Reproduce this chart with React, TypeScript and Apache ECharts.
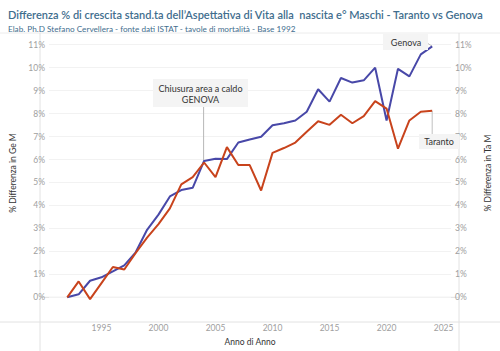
import React, { useEffect, useRef } from 'react';
import * as echarts from 'echarts';

const years = [1992, 1993, 1994, 1995, 1996, 1997, 1998, 1999, 2000, 2001, 2002, 2003, 2004, 2005, 2006, 2007, 2008, 2009, 2010, 2011, 2012, 2013, 2014, 2015, 2016, 2017, 2018, 2019, 2020, 2021, 2022, 2023, 2024];
const genova = [0.0, 0.13, 0.72, 0.87, 1.13, 1.39, 1.96, 2.94, 3.6, 4.39, 4.67, 4.77, 5.94, 6.03, 6.02, 6.74, 6.87, 6.99, 7.49, 7.58, 7.7, 8.08, 9.06, 8.52, 9.55, 9.35, 9.45, 10.0, 7.7, 9.95, 9.62, 10.58, 10.93];
const taranto = [0.0, 0.69, -0.08, 0.62, 1.32, 1.21, 1.93, 2.6, 3.19, 3.87, 4.92, 5.23, 5.87, 5.23, 6.54, 5.76, 5.76, 4.65, 6.29, 6.5, 6.74, 7.21, 7.67, 7.51, 7.95, 7.58, 7.89, 8.54, 8.22, 6.47, 7.7, 8.08, 8.12];
const yTicks = [0, 1, 2, 3, 4, 5, 6, 7, 8, 9, 10, 11];
const xTicks = [1995, 2000, 2005, 2010, 2015, 2020, 2025];

const FONT = 'Lato, "Open Sans", sans-serif';
const BLUE = '#4848a8';
const RED = '#c8431c';
const GRID = { left: 40, right: 41, top: 33, bottom: 29 };

export default function App() {
  const ref = useRef<HTMLDivElement>(null);
  useEffect(() => {
    const chart = echarts.init(ref.current!, null, { renderer: 'svg' });
    const yAxisBase = {
      type: 'value' as const,
      min: -0.688,
      max: 11.51,
      axisLine: { show: false },
      axisTick: { show: false },
      splitLine: { show: false },
      nameLocation: 'middle' as const,
      nameRotate: 90,
      nameTextStyle: { color: '#333', fontSize: 8.5, fontFamily: FONT },
      axisLabel: {
        customValues: yTicks,
        formatter: (v: number) => `${Math.round(v)}%`,
        color: '#a0a0a0',
        fontSize: 8.5,
        fontFamily: FONT,
        margin: 4,
      },
    };
    chart.setOption({
      animation: false,
      backgroundColor: '#fff',
      title: [
        {
          text: 'Differenza % di crescita stand.ta dell\u2019Aspettativa di Vita alla  nascita e\u00b0 Maschi - Taranto vs Genova',
          left: 3,
          top: 4,
          textStyle: { color: '#3f6e8e', fontSize: 11, fontWeight: 600, fontFamily: FONT },
        },
        {
          text: 'Elab. Ph.D Stefano Cervellera - fonte dati ISTAT - tavole di mortalit\u00e0 - Base 1992',
          left: 3,
          top: 19.5,
          textStyle: { color: '#3f6e8e', fontSize: 8.2, fontWeight: 'normal', fontFamily: FONT },
        },
      ],
      grid: GRID,
      xAxis: {
        type: 'value',
        min: 1990.4,
        max: 2025.65,
        name: 'Anno di Anno',
        nameLocation: 'middle',
        nameGap: 21,
        nameTextStyle: { color: '#333', fontSize: 8.5, fontFamily: FONT },
        axisLine: { show: false },
        axisTick: { show: false },
        splitLine: { show: false },
        axisLabel: {
          customValues: xTicks,
          color: '#a0a0a0',
          fontSize: 8.5,
          fontFamily: FONT,
          margin: 10,
          formatter: (v: number) => String(v),
        },
      },
      yAxis: [
        { ...yAxisBase, position: 'left', name: '% Differenza in Ge M', nameGap: 32 },
        { ...yAxisBase, position: 'right', name: '% Differenza in Ta M', nameGap: 32 },
      ],
      series: [
        {
          name: 'Genova',
          type: 'line',
          yAxisIndex: 0,
          data: years.map((y, i) => [y, genova[i]]),
          showSymbol: false,
          lineStyle: { color: BLUE, width: 2 },
          itemStyle: { color: BLUE },
          z: 3,
          markLine: {
            silent: true,
            symbol: 'none',
            label: { show: false },
            data: yTicks.map((v) => ({ yAxis: v })),
            lineStyle: { color: '#f2f2f2', type: 'solid', width: 1 },
            z: 1,
          },
        },
        {
          name: 'Taranto',
          type: 'line',
          yAxisIndex: 1,
          data: years.map((y, i) => [y, taranto[i]]),
          showSymbol: false,
          lineStyle: { color: RED, width: 2 },
          itemStyle: { color: RED },
          z: 4,
        },
      ],
    });

    const p2004 = chart.convertToPixel({ gridIndex: 0 }, [2004, genova[12]]) as number[];
    const pGe = chart.convertToPixel({ gridIndex: 0 }, [2024, genova[32]]) as number[];
    const pTa = chart.convertToPixel({ gridIndex: 0 }, [2024, taranto[32]]) as number[];
    const zero = chart.convertToPixel({ gridIndex: 0 }, [2000, 0]) as number[];
    const W = 500, H = 351;
    const plotTop = GRID.top, plotBottom = H - GRID.bottom, plotLeft = GRID.left, plotRight = W - GRID.right;
    const axisStroke = { stroke: '#e2e2e2', lineWidth: 1 };
    const ZA = 50;
    const ZL = 2;
    chart.setOption({
      graphic: [
        { type: 'line', shape: { x1: 0, y1: plotTop, x2: W, y2: plotTop }, style: { stroke: '#ececec', lineWidth: 1 }, silent: true },
        { type: 'line', shape: { x1: 0, y1: plotBottom, x2: W, y2: plotBottom }, style: axisStroke, silent: true },
        { type: 'line', shape: { x1: plotLeft, y1: plotTop, x2: plotLeft, y2: H }, style: axisStroke, silent: true },
        { type: 'line', shape: { x1: plotRight, y1: plotTop, x2: plotRight, y2: H }, style: axisStroke, silent: true },
        { type: 'line', shape: { x1: plotLeft, y1: zero[1], x2: plotRight, y2: zero[1] }, style: { stroke: '#dedede', lineWidth: 1 }, silent: true, z: 0 },
        // Chiusura annotation
        { type: 'line', z: ZL, shape: { x1: p2004[0] - 0.5, y1: 106, x2: p2004[0] - 0.5, y2: p2004[1] }, style: { stroke: '#b8b8b8', lineWidth: 1 }, silent: true },
        { type: 'rect', z: ZA, shape: { x: 153, y: 79, width: 95, height: 28 }, style: { fill: '#f4f4f4' }, silent: true },
        {
          type: 'text', z: ZA + 1, x: 200.5, y: 94, silent: true,
          style: { text: 'Chiusura area a caldo\nGENOVA', fill: '#333', fontSize: 9, fontFamily: FONT, align: 'center', verticalAlign: 'middle', lineHeight: 10.5 },
        },
        // Genova label
        { type: 'line', z: ZL, shape: { x1: 425, y1: 41.5, x2: pGe[0], y2: pGe[1] }, style: { stroke: '#c0c0c0', lineWidth: 1 }, silent: true },
        { type: 'rect', z: ZA, shape: { x: 383, y: 34, width: 45, height: 16 }, style: { fill: '#f4f4f4' }, silent: true },
        {
          type: 'text', z: ZA + 1, x: 406, y: 42, silent: true,
          style: { text: 'Genova', fill: '#333', fontSize: 9, fontFamily: FONT, align: 'center', verticalAlign: 'middle' },
        },
        // Taranto label
        { type: 'line', z: ZL, shape: { x1: pTa[0], y1: pTa[1], x2: pTa[0], y2: 134 }, style: { stroke: '#c0c0c0', lineWidth: 1 }, silent: true },
        { type: 'rect', z: ZA, shape: { x: 419, y: 134, width: 40, height: 15 }, style: { fill: '#f4f4f4' }, silent: true },
        {
          type: 'text', z: ZA + 1, x: 439, y: 141.5, silent: true,
          style: { text: 'Taranto', fill: '#333', fontSize: 9, fontFamily: FONT, align: 'center', verticalAlign: 'middle' },
        },
      ],
    });
    return () => chart.dispose();
  }, []);
  return <div ref={ref} style={{ position: 'fixed', left: 0, top: 0, width: 500, height: 351 }} />;
}
